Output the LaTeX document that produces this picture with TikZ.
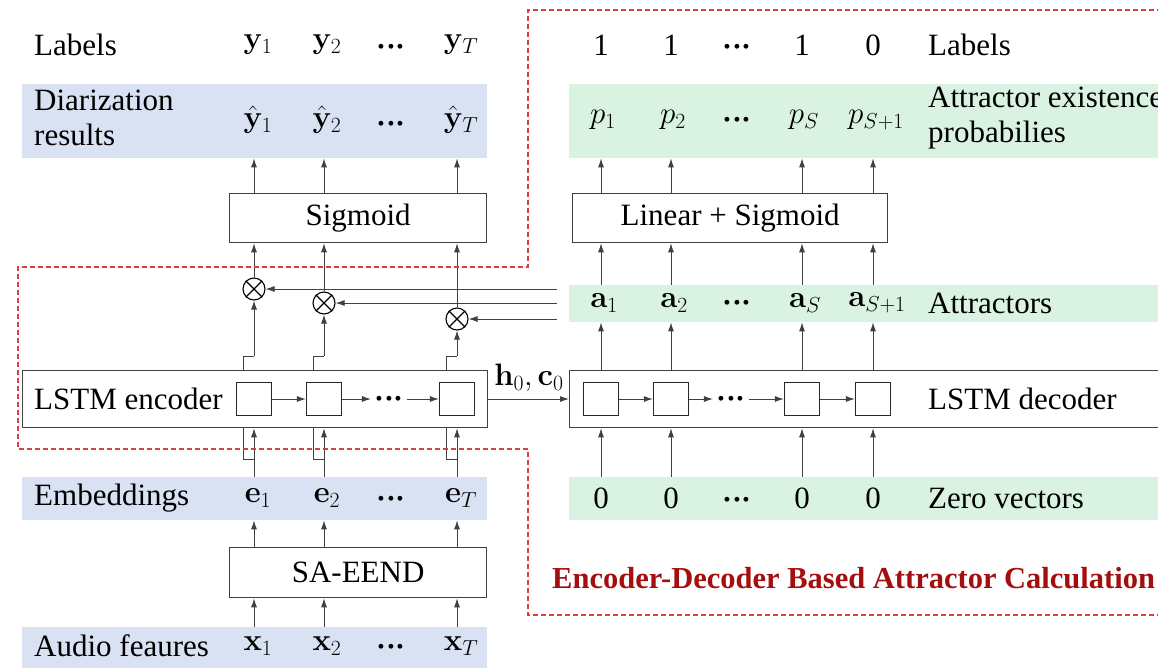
\RequirePackage{fix-cm}
\documentclass[tikz,border=0pt]{standalone}
\usepackage[no-math]{fontspec}
\setmainfont{Liberation Serif}
\usetikzlibrary{arrows.meta}
\definecolor{bandblue}{HTML}{D9E2F3}
\definecolor{bandgreen}{HTML}{DAF2E1}
\definecolor{dashred}{HTML}{D8403C}
\definecolor{titlered}{HTML}{A50E0E}
\definecolor{linegray}{HTML}{404040}
% tight row of heavy centred dots
\newcommand{\heavydots}{{\boldmath${\cdot}{\cdot}{\cdot}$}}

\begin{document}
\begin{tikzpicture}[x=1pt,y=-1pt,
  font=\fontsize{31}{35}\selectfont,
  band/.style={fill=#1,draw=none,inner sep=0,anchor=north west},
  block/.style={draw=linegray,line width=1.3pt,fill=white,inner sep=0,anchor=north west},
  cell/.style={draw=black!85,line width=1.3pt,minimum width=35pt,minimum height=33pt,inner sep=0},
  conn/.style={draw=linegray,line width=0.9pt,-{Latex[length=9pt,width=6pt]}},
  plain/.style={draw=linegray,line width=0.9pt},
  mult/.style={circle,draw=black,line width=1.1pt,minimum size=22pt,inner sep=0},
  region/.style={draw=dashred,line width=1.3pt,dash pattern=on 5pt off 3pt},
  txt/.style={inner sep=0,anchor=west,align=left},
  sym/.style={inner sep=0}
]
\useasboundingbox (0,0) rectangle (1158,667);
\clip (0,0) rectangle (1158,667);

% column positions
\coordinate (c1) at (254,0);
\coordinate (c2) at (324,0);
\coordinate (cd) at (391,0);
\coordinate (cT) at (457,0);
\coordinate (d1) at (601,0);
\coordinate (d2) at (671,0);
\coordinate (dd) at (737,0);
\coordinate (dS) at (802,0);
\coordinate (dT) at (873,0);

% ---------- coloured bands ----------
\node[band=bandblue,minimum width=465pt,minimum height=74pt] (diar) at (22,84) {};
\node[band=bandblue,minimum width=465pt,minimum height=43pt] (emb) at (22,477) {};
\node[band=bandblue,minimum width=465pt,minimum height=42pt] (audio) at (22,627) {};
\node[band=bandgreen,minimum width=600pt,minimum height=74pt] (prob) at (569,84) {};
\node[band=bandgreen,minimum width=600pt,minimum height=37pt] (attr) at (569,285) {};
\node[band=bandgreen,minimum width=600pt,minimum height=43pt] (zero) at (569,477) {};

% ---------- blocks ----------
\node[block,minimum width=257pt,minimum height=49pt] (sig) at (229,193) {Sigmoid};
\node[block,minimum width=315pt,minimum height=49pt] (lin) at (572,193) {Linear + Sigmoid};
\node[block,minimum width=465pt,minimum height=57pt] (enc) at (22,370) {};
\node[block,minimum width=600pt,minimum height=57pt] (dec) at (569,370) {};
\node[block,minimum width=257pt,minimum height=50pt] (sa) at (229,547) {SA-EEND};

% ---------- left side texts ----------
\node[txt] (lblL) at (34,45) {Labels};
\node[sym] (y1) at (258,45) {$\mathbf{y}_1$};
\node[sym] (y2) at (327,45) {$\mathbf{y}_2$};
\node[sym] (yd) at (391,47) {\heavydots};
\node[sym] (yT) at (461,45) {$\mathbf{y}_T$};

\node[txt] (diarlbl) at (34,118) {Diarization\\results};
\node[sym] (h1) at (258,120) {$\hat{\mathbf{y}}_1$};
\node[sym] (h2) at (327,120) {$\hat{\mathbf{y}}_2$};
\node[sym] (hd) at (391,124) {\heavydots};
\node[sym] (hT) at (461,120) {$\hat{\mathbf{y}}_T$};

\node[txt] (enclbl) at (34,399) {LSTM encoder};

\node[txt] (emblbl) at (34,498) {Embeddings};
\node[sym] (e1) at (258,498) {$\mathbf{e}_1$};
\node[sym] (e2) at (327,498) {$\mathbf{e}_2$};
\node[sym] (ed) at (391,499) {\heavydots};
\node[sym] (eT) at (461,498) {$\mathbf{e}_T$};

\node[txt] (audlbl) at (34,646) {Audio feaures};
\node[sym] (x1) at (258,646) {$\mathbf{x}_1$};
\node[sym] (x2) at (327,646) {$\mathbf{x}_2$};
\node[sym] (xd) at (391,647) {\heavydots};
\node[sym] (xT) at (461,646) {$\mathbf{x}_T$};

% ---------- right side texts ----------
\node[sym] (l1) at (601,45) {1};
\node[sym] (l2) at (671,45) {1};
\node[sym] (ld) at (737,47) {\heavydots};
\node[sym] (lS) at (802,45) {1};
\node[sym] (lT) at (873,45) {0};
\node[txt] (lblR) at (928,45) {Labels};

\node[sym] (p1) at (603,120) {$p_1$};
\node[sym] (p2) at (673,120) {$p_2$};
\node[sym] (pd) at (737,120) {\heavydots};
\node[sym] (pS) at (804,120) {$p_S$};
\node[sym] (pT) at (876,120) {$p_{S+1}$};
\node[txt] (problbl) at (928,118) {Attractor existence\\probabilies};

\node[sym] (a1) at (604,303) {$\mathbf{a}_1$};
\node[sym] (a2) at (674,303) {$\mathbf{a}_2$};
\node[sym] (ad) at (737,303) {\heavydots};
\node[sym] (aS) at (805,303) {$\mathbf{a}_S$};
\node[sym] (aT) at (877,303) {$\mathbf{a}_{S+1}$};
\node[txt] (attrlbl) at (928,303) {Attractors};

\node[txt] (declbl) at (928,399) {LSTM decoder};

\node[sym] (z1) at (601,498) {0};
\node[sym] (z2) at (671,498) {0};
\node[sym] (zd) at (737,500) {\heavydots};
\node[sym] (zS) at (802,498) {0};
\node[sym] (zT) at (873,498) {0};
\node[txt] (zerolbl) at (928,498) {Zero vectors};

\node[txt,text=titlered,font=\fontsize{30.5}{35}\selectfont\bfseries] (title) at (552,578)
  {Encoder-Decoder Based Attractor Calculation};

% ---------- encoder cells ----------
\node[cell] (ec1) at (254,399) {};
\node[cell] (ec2) at (324,399) {};
\node[sym,inner xsep=3pt] (ecd) at (389,399) {\heavydots};
\node[cell] (ecT) at (457,399) {};
\draw[conn] (ec1.east) -- (ec2.west);
\draw[conn] (ec2.east) -- (ecd.west |- ec2.east);
\draw[conn] (ecd.east |- ecT.west) -- (ecT.west);

% ---------- decoder cells ----------
\node[cell] (dc1) at (601,399) {};
\node[cell] (dc2) at (671,399) {};
\node[sym,inner xsep=3pt] (dcd) at (731,399) {\heavydots};
\node[cell] (dcS) at (802,399) {};
\node[cell] (dcT) at (873,399) {};
\draw[conn] (dc1.east) -- (dc2.west);
\draw[conn] (dc2.east) -- (dcd.west |- dc2.east);
\draw[conn] (dcd.east |- dcS.west) -- (dcS.west);
\draw[conn] (dcS.east) -- (dcT.west);

% ---------- hidden state hand-over ----------
\draw[conn] (enc.east |- ecT) -- (dec.west |- dc1);
\node[sym,anchor=south] (hc) at (529,392) {$\mathbf{h}_0,\mathbf{c}_0$};

% ---------- multipliers ----------
\node[mult] (m1) at (254,289) {};
\node[mult] (m2) at (324,303) {};
\node[mult] (m3) at (457,319) {};
\foreach \m in {m1,m2,m3}{
  \draw[line width=1.1pt] (\m.north east) -- (\m.south west) (\m.north west) -- (\m.south east);
}
\coordinate (f1) at (557,289);
\coordinate (f2) at (557,303);
\coordinate (f3) at (557,319);
\draw[conn] (f1) -- (m1.east);
\draw[conn] (f2) -- (m2.east);
\draw[conn] (f3) -- (m3.east);

% encoder outputs into multipliers
\foreach \m/\k in {m1/c1,m2/c2,m3/cT}{
  \draw[plain] ([xshift=-11pt]\k |- enc.north) -- ([xshift=-11pt]\k |- 0,356) -- (\k |- 0,356);
  \draw[conn] (\k |- 0,356) -- (\m.south);
  \draw[conn] (\m.north) -- (\m.north |- sig.south);
}

% embeddings into encoder
\foreach \k in {c1,c2,cT}{
  \draw[plain] ([xshift=-11pt]\k |- enc.south) -- ([xshift=-11pt]\k |- 0,459) -- (\k |- 0,459);
  \draw[conn] (\k |- emb.north) -- (\k |- enc.south);
  \draw[conn] (\k |- sig.north) -- (\k |- diar.south);
  \draw[conn] (\k |- sa.north) -- (\k |- emb.south);
  \draw[conn] (\k |- audio.north) -- (\k |- sa.south);
}

% attractor side vertical flow
\foreach \k in {d1,d2,dS,dT}{
  \draw[conn] (\k |- lin.north) -- (\k |- prob.south);
  \draw[conn] (\k |- attr.north) -- (\k |- lin.south);
  \draw[conn] (\k |- dec.north) -- (\k |- attr.south);
  \draw[conn] (\k |- zero.north) -- (\k |- dec.south);
}

% ---------- attractor calculation region ----------
\draw[region] (1170,10) -- (528,10) -- (528,267) -- (18,267) -- (18,449)
  -- (528,449) -- (528,615) -- (1170,615);

\end{tikzpicture}
\end{document}
